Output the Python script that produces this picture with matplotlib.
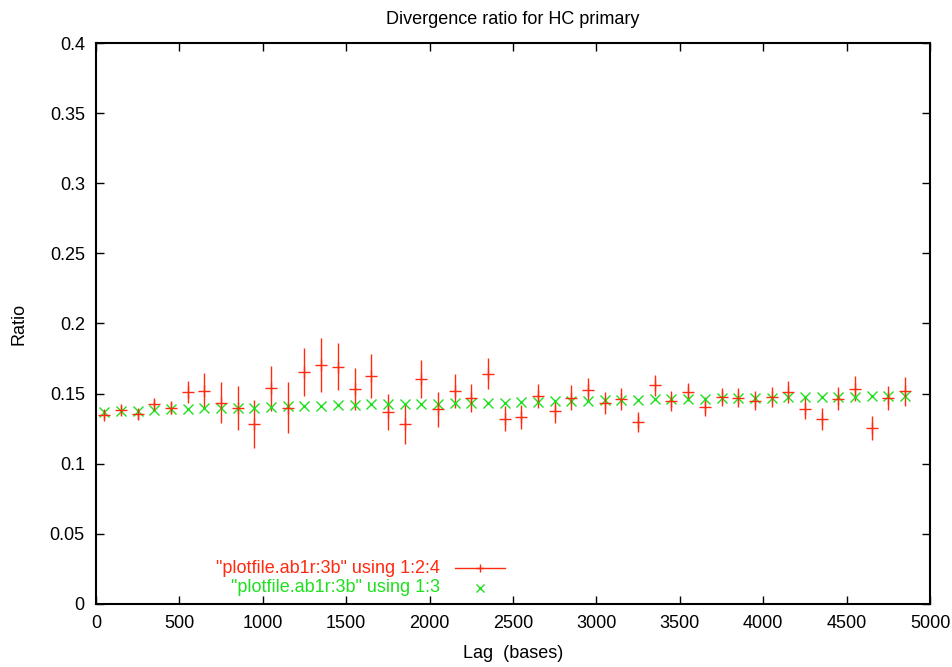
import matplotlib
matplotlib.use("Agg")
import matplotlib.pyplot as plt
import numpy as np

plt.rcParams['font.family'] = ['Liberation Sans', 'DejaVu Sans']

# lag positions (bases)
lag = [50, 150, 250, 350, 450, 550, 650, 750, 850, 950,
       1050, 1150, 1250, 1350, 1450, 1550, 1650, 1750, 1850, 1950,
       2050, 2150, 2250, 2350, 2450, 2550, 2650, 2750, 2850, 2950,
       3050, 3150, 3250, 3350, 3450, 3550, 3650, 3750, 3850, 3950,
       4050, 4150, 4250, 4350, 4450, 4550, 4650, 4750, 4850]

# column 2: measured ratio, column 4: error
ratio = [0.135, 0.1386, 0.1352, 0.1426, 0.140, 0.151, 0.152, 0.1436, 0.1398, 0.1283,
         0.1538, 0.140, 0.1652, 0.1705, 0.1693, 0.1533, 0.1626, 0.1367, 0.1283, 0.1605,
         0.1388, 0.1517, 0.1467, 0.1643, 0.1321, 0.1333, 0.1483, 0.1374, 0.1471, 0.1529,
         0.1436, 0.1462, 0.1298, 0.156, 0.145, 0.1512, 0.1405, 0.1476, 0.1469, 0.145,
         0.1476, 0.1512, 0.1393, 0.1317, 0.1464, 0.1536, 0.1255, 0.1469, 0.1517]
err = [0.003, 0.003, 0.003, 0.003, 0.0045, 0.008, 0.013, 0.0145, 0.0154, 0.0168,
       0.016, 0.018, 0.017, 0.0195, 0.017, 0.015, 0.016, 0.0127, 0.0143, 0.0138,
       0.0123, 0.012, 0.0099, 0.011, 0.0088, 0.0088, 0.0087, 0.0081, 0.0088, 0.0083,
       0.0079, 0.0076, 0.0071, 0.0074, 0.0071, 0.0067, 0.0068, 0.0063, 0.0068, 0.0068,
       0.0071, 0.008, 0.0077, 0.0079, 0.008, 0.009, 0.0087, 0.0088, 0.0104]

# column 3: expected ratio
expected = [0.1369, 0.1376, 0.1374, 0.1386, 0.139, 0.139, 0.1395, 0.1395, 0.140, 0.140,
            0.1405, 0.141, 0.1412, 0.1414, 0.1417, 0.142, 0.1424, 0.1424, 0.1424, 0.1426,
            0.1428, 0.1431, 0.1433, 0.1436, 0.1436, 0.144, 0.1442, 0.1445, 0.145, 0.145,
            0.1452, 0.1455, 0.1457, 0.146, 0.1462, 0.1464, 0.1464, 0.1467, 0.1469, 0.1471,
            0.1471, 0.1474, 0.1474, 0.1474, 0.1476, 0.1479, 0.148, 0.148, 0.1483]

label_obs = '"plotfile.ab1r:3b" using 1:2:4'
label_exp = '"plotfile.ab1r:3b" using 1:3'

red = '#ff2a10'
green = '#1ee01e'
fs = 13

fig = plt.figure(figsize=(9.53, 6.67), dpi=100)
ax = fig.add_axes([0.1007, 0.0945, 0.8752, 0.8410])

ax.errorbar(lag, ratio, yerr=err, fmt='+', color=red, ecolor=red,
            elinewidth=1.0, capsize=0, markersize=8, markeredgewidth=1.0)
ax.plot(lag, expected, 'x', color=green, markersize=7, markeredgewidth=1.0)

ax.set_xlim(0, 5000)
ax.set_ylim(0, 0.4)
ax.set_xticks(np.arange(0, 5001, 500))
ax.set_yticks(np.arange(0, 0.401, 0.05))
ax.set_yticklabels(['0', '0.05', '0.1', '0.15', '0.2', '0.25', '0.3', '0.35', '0.4'])
ax.tick_params(direction='in', top=True, right=True, length=6, width=1.0,
               labelsize=fs, pad=8)
for s in ax.spines.values():
    s.set_linewidth(1.5)

ax.set_title('Divergence ratio for HC primary', fontsize=fs, pad=14)
ax.set_xlabel('Lag  (bases)', fontsize=fs, labelpad=9)
ax.set_ylabel('Ratio', fontsize=fs, labelpad=16)

# gnuplot-style key: right-aligned text, sample to the right
tr = ax.transAxes
ax.text(0.4125, 0.064, label_obs, color=red, fontsize=fs, ha='right', va='center', transform=tr)
ax.plot([0.430, 0.490], [0.064, 0.064], color=red, lw=1.0, transform=tr, clip_on=False)
ax.plot([0.460], [0.064], '+', color=red, markersize=6, transform=tr, clip_on=False)
ax.text(0.4125, 0.0285, label_exp, color=green, fontsize=fs, ha='right', va='center', transform=tr)
ax.plot([0.460], [0.0285], 'x', color=green, markersize=6, transform=tr, clip_on=False)

fig.savefig('out.png', dpi=100)
